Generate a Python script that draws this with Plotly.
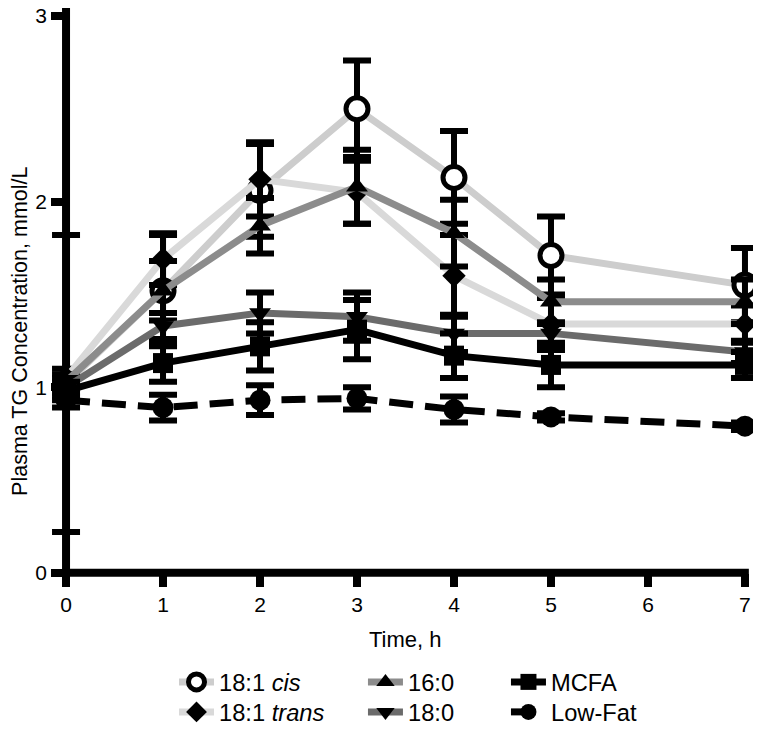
import plotly.graph_objects as go

# ---- data ----
time_h = [0, 1, 2, 3, 4, 5, 7]

cis_mean = [1.02, 1.52, 2.06, 2.50, 2.13, 1.71, 1.55]
cis_sem = [0.80, 0.30, 0.25, 0.26, 0.25, 0.21, 0.20]

trans_mean = [1.05, 1.69, 2.12, 2.05, 1.60, 1.34, 1.34]
trans_sem = [0.05, 0.14, 0.20, 0.17, 0.22, 0.14, 0.10]

p160_mean = [1.03, 1.52, 1.87, 2.08, 1.83, 1.46, 1.46]
p160_sem = [0.04, 0.16, 0.15, 0.20, 0.18, 0.12, 0.12]

s180_mean = [1.00, 1.33, 1.40, 1.38, 1.29, 1.29, 1.19]
s180_sem = [0.05, 0.07, 0.11, 0.13, 0.10, 0.06, 0.06]

mcfa_mean = [0.98, 1.13, 1.22, 1.31, 1.17, 1.12, 1.12]
mcfa_sem = [0.05, 0.10, 0.13, 0.16, 0.12, 0.12, 0.07]

lowfat_mean = [0.93, 0.89, 0.93, 0.94, 0.88, 0.84, 0.79]
lowfat_sem = [0.04, 0.07, 0.08, 0.06, 0.07, 0.02, 0.02]

series_names = ["18:1 <i>cis</i>", "18:1 <i>trans</i>", "16:0", "18:0", "MCFA", "Low-Fat"]
x_ticks = [0, 1, 2, 3, 4, 5, 6, 7]
y_ticks = [0, 1, 2, 3]

FONT = "Liberation Sans, Arial, sans-serif"

# data subplot ranges (slightly wider than the axes so edge error caps are not clipped)
X_RANGE = [-0.155, 7.155]
Y_RANGE = [-0.0603, 3.0431]
X_AXIS = [0, 7]
Y_AXIS = [0, 3]


def to_paper(v, rng):
    return (v - rng[0]) / (rng[1] - rng[0])


specs = [
    # name, mean, err, line colour, dash, symbol, size, marker fill, legend id
    (series_names[0], cis_mean, cis_sem, "#cdcdcd", "solid", "circle", 22, "white", "legend"),
    (series_names[1], trans_mean, trans_sem, "#d9d9d9", "solid", "diamond", 18, "black", "legend2"),
    (series_names[2], p160_mean, p160_sem, "#8c8c8c", "solid", "triangle-up", 19, "black", "legend3"),
    (series_names[3], s180_mean, s180_sem, "#6b6b6b", "solid", "triangle-down", 19, "black", "legend4"),
    (series_names[4], mcfa_mean, mcfa_sem, "black", "solid", "square", 20, "black", "legend5"),
    (series_names[5], lowfat_mean, lowfat_sem, "black", "24px,12px", "circle", 21, "black", "legend6"),
]

fig = go.Figure()
# empty trace so the tick-axes subplot exists
fig.add_trace(go.Scatter(x=[], y=[], xaxis="x", yaxis="y", showlegend=False, hoverinfo="skip"))
for name, mean, err, lc, dash, sym, size, fill, lg in specs:
    fig.add_trace(go.Scatter(
        x=time_h, y=mean, name=name, mode="lines+markers",
        xaxis="x2", yaxis="y2",
        line=dict(color=lc, width=7, dash=dash),
        marker=dict(symbol=sym, size=size, color=fill,
                    line=dict(color="black", width=5 if fill == "white" else 0)),
        error_y=dict(type="data", array=err, visible=True, color="black",
                     thickness=6, width=14),
        cliponaxis=False,
        legend=lg,
    ))

x0p, x7p = to_paper(X_AXIS[0], X_RANGE), to_paper(X_AXIS[1], X_RANGE)
y0p, y3p = to_paper(Y_AXIS[0], Y_RANGE), to_paper(Y_AXIS[1], Y_RANGE)

# axis lines centred on x=0 / y=0
fig.add_shape(type="line", xref="paper", yref="paper", x0=x0p, x1=x0p,
              y0=to_paper(-0.02, Y_RANGE), y1=1.0,
              line=dict(color="black", width=8), layer="below")
fig.add_shape(type="line", xref="paper", yref="paper",
              x0=to_paper(-0.04, X_RANGE), x1=to_paper(7.04, X_RANGE), y0=y0p, y1=y0p,
              line=dict(color="black", width=8), layer="below")

legend_common = dict(orientation="v", yanchor="top", xanchor="left",
                     font=dict(family=FONT, size=23.7, color="black"),
                     bgcolor="rgba(0,0,0,0)", itemwidth=35)

ROW1, ROW2 = -0.1319, -0.1840
COL1, COL2, COL3 = 0.1735, 0.440, 0.6417

hidden = dict(showgrid=False, zeroline=False, showline=False, showticklabels=False, ticks="")

fig.update_layout(
    width=753, height=726,
    margin=dict(l=43, r=1, t=0, b=150, autoexpand=False),
    paper_bgcolor="white", plot_bgcolor="rgba(0,0,0,0)",
    font=dict(family=FONT, color="black"),
    showlegend=True,
    legend=dict(x=COL1, y=ROW1, **legend_common),
    legend2=dict(x=COL1, y=ROW2, **legend_common),
    legend3=dict(x=COL2, y=ROW1, **legend_common),
    legend4=dict(x=COL2, y=ROW2, **legend_common),
    legend5=dict(x=COL3, y=ROW1, **legend_common),
    legend6=dict(x=COL3, y=ROW2, **legend_common),
    xaxis=dict(range=X_AXIS, domain=[x0p, x7p], anchor="y",
               tickvals=x_ticks, ticktext=[str(v) for v in x_ticks],
               showgrid=False, zeroline=False, showline=False,
               ticks="outside", ticklen=13, tickwidth=8, tickcolor="black",
               ticklabeloverflow="allow",
               tickfont=dict(family=FONT, size=21, color="black")),
    yaxis=dict(range=Y_AXIS, domain=[y0p, y3p], anchor="x",
               tickvals=y_ticks, ticktext=[str(v) for v in y_ticks],
               showgrid=False, zeroline=False, showline=False,
               ticks="outside", ticklen=14, tickwidth=8, tickcolor="black",
               ticklabeloverflow="allow",
               tickfont=dict(family=FONT, size=21, color="black")),
    xaxis2=dict(range=X_RANGE, domain=[0, 1], anchor="y2", **hidden),
    yaxis2=dict(range=Y_RANGE, domain=[0, 1], anchor="x2", **hidden),
    annotations=[
        dict(text="Time, h", xref="paper", yref="paper", x=0.4993, y=-0.0972,
             xanchor="center", yanchor="middle", showarrow=False,
             font=dict(family=FONT, size=22, color="black")),
        dict(text="Plasma TG Concentration, mmol/L", xref="paper", yref="paper",
             x=-0.044, y=0.439, xanchor="center", yanchor="middle", textangle=-90,
             showarrow=False, font=dict(family=FONT, size=21.5, color="black")),
    ],
)

fig.write_html("out.html")
